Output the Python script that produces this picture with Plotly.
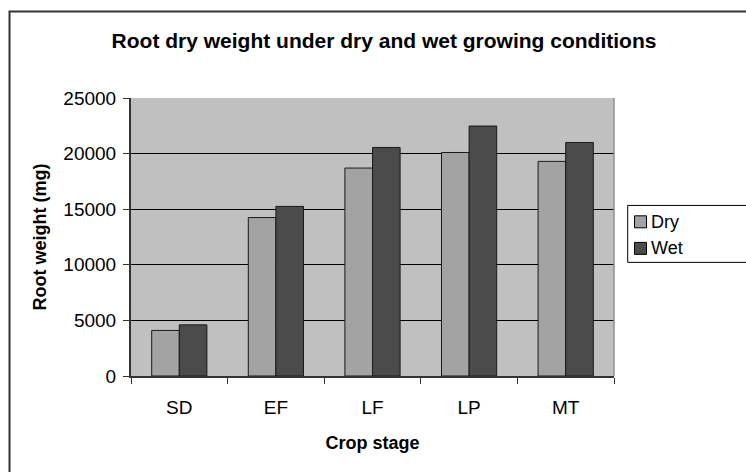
import plotly.graph_objects as go

stages = ["SD", "EF", "LF", "LP", "MT"]
dry = [4100, 14250, 18700, 20100, 19300]
wet = [4600, 15250, 20550, 22480, 21000]
y_ticks = [0, 5000, 10000, 15000, 20000, 25000]
series_names = ["Dry", "Wet"]
series_colors = ["#A3A3A3", "#4B4B4B"]

W, H = 746, 472
L, R, T, B = 131, 614, 97.5, 375.7

def px(x):
    return (x - L) / (R - L)

def py(y):
    return (B - y) / (B - T)

fig = go.Figure()
for name, vals, col in zip(series_names, [dry, wet], series_colors):
    fig.add_trace(go.Bar(name=name, x=stages, y=vals, showlegend=False,
                         marker=dict(color=col, line=dict(color="#1a1a1a", width=1))))

font = "Liberation Sans, Arial, sans-serif"

shapes = [
    dict(type="path", xref="paper", yref="paper",
         path=f"M {px(9.5)},{py(480)} L {px(9.5)},{py(11)} L {px(760)},{py(11)}",
         line=dict(color="#333333", width=2)),
    dict(type="line", xref="paper", yref="paper", x0=1, x1=1, y0=0, y1=1,
         line=dict(color="#909090", width=1.5)),
    # legend box
    dict(type="rect", xref="paper", yref="paper",
         x0=px(627.7), x1=px(770), y0=py(262), y1=py(205),
         line=dict(color="black", width=1), fillcolor="white"),
]
annotations = []
for i, (name, col) in enumerate(zip(series_names, series_colors)):
    cy = 221.4 + i * 26.6
    shapes.append(dict(type="rect", xref="paper", yref="paper",
                       x0=px(634.5), x1=px(646.5), y0=py(cy + 6), y1=py(cy - 6),
                       line=dict(color="black", width=1), fillcolor=col))
    annotations.append(dict(text=name, xref="paper", yref="paper",
                            x=px(649), y=py(cy), xanchor="left", yanchor="middle",
                            showarrow=False, font=dict(size=18, family=font, color="black")))

fig.update_layout(
    width=W, height=H,
    margin=dict(l=L, r=W - R, t=T, b=H - B, autoexpand=False),
    paper_bgcolor="white",
    plot_bgcolor="#C0C0C0",
    barmode="group",
    bargap=0.4286,
    bargroupgap=0,
    font=dict(family=font, size=19, color="black"),
    title=dict(text="<b>Root dry weight under dry and wet growing conditions</b>",
               x=384 / W, xref="container", xanchor="center",
               y=1 - 41 / H, yref="container", yanchor="middle",
               font=dict(size=21, family=font, color="black")),
    showlegend=False,
    hovermode=False,
    xaxis=dict(
        showline=True, linecolor="#333333", linewidth=2,
        ticks="outside", tickson="boundaries", ticklen=6, tickcolor="#333333",
        ticklabelstandoff=13,
        title=dict(text="<b>Crop stage</b>", standoff=20, font=dict(size=18, family=font)),
        showgrid=False,
    ),
    yaxis=dict(
        range=[0, 25000], tickvals=y_ticks, ticktext=[str(v) for v in y_ticks],
        showline=True, linecolor="#333333", linewidth=2,
        ticks="outside", ticklen=6, tickcolor="#333333",
        ticklabelstandoff=3,
        showgrid=True, gridcolor="black", gridwidth=1, zeroline=False,
        title=dict(text="<b>Root weight (mg)</b>", standoff=12, font=dict(size=18, family=font)),
    ),
    shapes=shapes,
    annotations=annotations,
)

fig.write_html("out.html", config={"displayModeBar": False},
               post_script="document.body.style.margin='0';")
